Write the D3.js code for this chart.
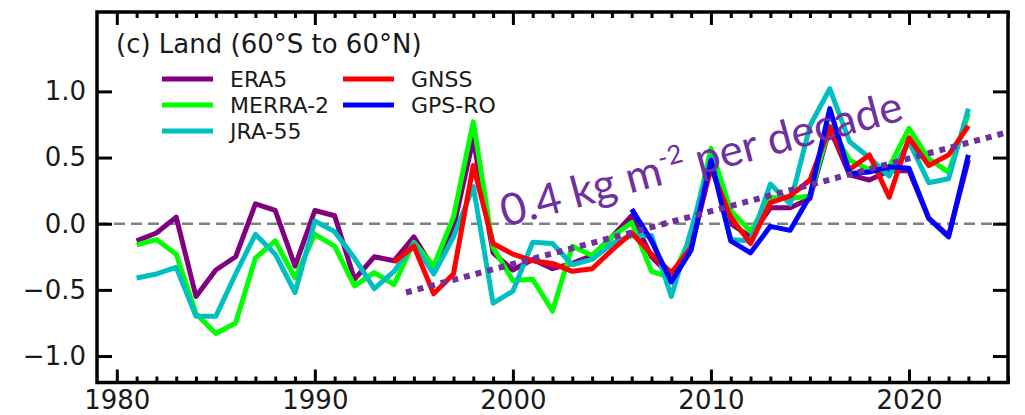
<!DOCTYPE html>
<html lang="en">
<head>
	<meta charset="UTF-8"/>
	<title>Land (60°S to 60°N) anomalies</title>
	<script src="https://d3js.org/d3.v7.min.js"></script>
	<style>
		body { margin: 0; background: #fff; }
		svg { display: block; font-family: "DejaVu Sans", sans-serif; }
	</style>
</head>
<body>
<script>
	var w = 1025;	// Width of the SVG
	var h = 415;	// Height of the SVG

	// plot frame (pixels)
	var frameL = 97, frameR = 1008, frameT = 12, frameB = 382.5;

	// years of each series
	var reanalysisYears = d3.range(1981, 2024);
	var gnssYears = d3.range(1994, 2024);
	var gpsroYears = d3.range(2006, 2024);

	// anomalies
	var era5 = [-0.13, -0.07, 0.05, -0.55, -0.35, -0.25, 0.15, 0.10, -0.32, 0.10,
		0.06, -0.42, -0.25, -0.28, -0.10, -0.34, -0.03, 0.64, -0.22, -0.35,
		-0.27, -0.34, -0.30, -0.24, -0.10, 0.06, -0.25, -0.40, -0.15, 0.45,
		0.00, -0.10, 0.12, 0.12, 0.19, 0.72, 0.37, 0.33, 0.40, 0.40,
		0.04, -0.09, 0.48];
	var merra2 = [-0.16, -0.12, -0.23, -0.68, -0.83, -0.75, -0.26, -0.13, -0.41, -0.08,
		-0.17, -0.47, -0.37, -0.46, -0.14, -0.32, 0.05, 0.77, -0.18, -0.43,
		-0.42, -0.66, -0.17, -0.24, -0.10, 0.01, -0.36, -0.41, -0.10, 0.57,
		0.10, -0.06, 0.20, 0.19, 0.21, 0.74, 0.48, 0.41, 0.43, 0.72,
		0.49, 0.39, 0.83];
	var jra55 = [-0.41, -0.38, -0.33, -0.70, -0.70, -0.38, -0.08, -0.23, -0.52, 0.02,
		-0.06, -0.26, -0.49, -0.36, -0.15, -0.38, -0.10, 0.28, -0.60, -0.51,
		-0.14, -0.15, -0.31, -0.27, -0.15, -0.09, -0.09, -0.55, -0.05, 0.50,
		-0.12, -0.13, 0.30, 0.15, 0.74, 1.02, 0.62, 0.50, 0.36, 0.62,
		0.31, 0.34, 0.87];
	var gnss = [-0.29, -0.17, -0.53, -0.38, 0.44, -0.15, -0.23, -0.28, -0.30, -0.36,
		-0.34, -0.20, -0.07, -0.23, -0.37, -0.18, 0.42, 0.05, -0.15, 0.16,
		0.21, 0.33, 0.73, 0.41, 0.52, 0.20, 0.65, 0.44, 0.52, 0.74];
	var gpsro = [0.11, -0.13, -0.44, -0.20, 0.48, -0.13, -0.22, -0.02, -0.05, 0.21,
		0.87, 0.38, 0.39, 0.43, 0.42, 0.04, -0.10, 0.52];

	// trend line (dotted) and its label
	var trendYears = [1994.6, 2025.2];
	var trendValues = [-0.52, 0.70];
	var trendLabel = "0.4 kg m";

	// ticks
	var xTicks = [1980, 1990, 2000, 2010, 2020];
	var xMinor = d3.range(1980, 2026).filter(function(d){ return d % 10 !== 0; });
	var yTicks = [-1.0, -0.5, 0.0, 0.5, 1.0];

	var series = [
		{ name: "ERA5",     years: reanalysisYears, values: era5,   color: "#800080" },
		{ name: "MERRA-2",  years: reanalysisYears, values: merra2, color: "#00ff00" },
		{ name: "JRA-55",   years: reanalysisYears, values: jra55,  color: "#00bfbf" },
		{ name: "GNSS",     years: gnssYears,       values: gnss,   color: "#ff0000" },
		{ name: "GPS-RO",   years: gpsroYears,      values: gpsro,  color: "#0000ff" }
	];

	var xScale = d3.scaleLinear().domain([1979, 2025]).range([frameL, frameR]);
	var yScale = d3.scaleLinear().domain([-1.2, 1.6]).range([frameB, frameT]);

	var svg = d3.select("body")
				.append("svg")
				.attr("width", w)
				.attr("height", h);

	svg.append("rect").attr("width", w).attr("height", h).attr("fill", "#fff");

	svg.append("clipPath").attr("id", "plot")
		.append("rect")
		.attr("x", frameL).attr("y", frameT)
		.attr("width", frameR - frameL).attr("height", frameB - frameT);

	// zero line
	svg.append("line")
		.attr("x1", frameL).attr("x2", frameR)
		.attr("y1", yScale(0)).attr("y2", yScale(0))
		.attr("stroke", "#808080")
		.attr("stroke-width", 2.5)
		.attr("stroke-dasharray", "11,6");

	// data lines
	var line = d3.line()
				.x(function(d){ return xScale(d[0]); })
				.y(function(d){ return yScale(d[1]); });

	series.forEach(function(s) {
		svg.append("path")
			.datum(d3.zip(s.years, s.values))
			.attr("d", line)
			.attr("fill", "none")
			.attr("stroke", s.color)
			.attr("stroke-width", 5)
			.attr("stroke-linejoin", "round");
	});

	// trend line
	svg.append("path")
		.datum(d3.zip(trendYears, trendValues))
		.attr("d", line)
		.attr("clip-path", "url(#plot)")
		.attr("fill", "none")
		.attr("stroke", "#7030a0")
		.attr("stroke-width", 6)
		.attr("stroke-dasharray", "6,6");

	var label = svg.append("text")
		.attr("transform", "translate(505,227) rotate(-15)")
		.attr("fill", "#7030a0")
		.style("font-family", "Lato, sans-serif")
		.style("font-size", "44px");
	label.append("tspan").text(trendLabel);
	label.append("tspan").attr("dy", -17).style("font-size", "26px").text("-2");
	label.append("tspan").attr("dy", 17).text(" per decade");

	// axes, ticks pointing inward on every side
	function styleAxis(g) {
		g.select(".domain").remove();
		g.selectAll(".tick line").attr("stroke", "#000").attr("stroke-width", 3);
		g.selectAll(".tick text").attr("fill", "#1a1a1a").style("font-size", "26px")
			.style("font-family", "DejaVu Sans, sans-serif");
	}

	svg.append("g")
		.attr("transform", "translate(0," + frameB + ")")
		.call(d3.axisBottom(xScale).tickValues(xTicks).tickSize(-13).tickPadding(8).tickFormat(d3.format("d")))
		.call(styleAxis);
	svg.append("g")
		.attr("transform", "translate(0," + frameB + ")")
		.call(d3.axisBottom(xScale).tickValues(xMinor).tickSize(-6).tickFormat(""))
		.call(styleAxis);
	svg.append("g")
		.attr("transform", "translate(0," + frameT + ")")
		.call(d3.axisTop(xScale).tickValues(xTicks).tickSize(-13).tickFormat(""))
		.call(styleAxis);
	svg.append("g")
		.attr("transform", "translate(0," + frameT + ")")
		.call(d3.axisTop(xScale).tickValues(xMinor).tickSize(-6).tickFormat(""))
		.call(styleAxis);
	svg.append("g")
		.attr("transform", "translate(" + frameL + ",0)")
		.call(d3.axisLeft(yScale).tickValues(yTicks).tickSize(-15).tickPadding(11).tickFormat(d3.format(".1f")))
		.call(styleAxis);
	svg.append("g")
		.attr("transform", "translate(" + frameR + ",0)")
		.call(d3.axisRight(yScale).tickValues(yTicks).tickSize(-15).tickFormat(""))
		.call(styleAxis);

	// frame
	svg.append("rect")
		.attr("x", frameL).attr("y", frameT)
		.attr("width", frameR - frameL).attr("height", frameB - frameT)
		.attr("fill", "none")
		.attr("stroke", "#000")
		.attr("stroke-width", 3.5);

	// title and legend
	svg.append("text")
		.attr("x", 116).attr("y", 53)
		.attr("fill", "#1a1a1a")
		.style("font-size", "26px")
		.text("(c) Land (60°S to 60°N)");

	var legendPos = [[162, 79], [162, 105], [162, 131], [343, 79], [343, 105]];
	var legend = svg.selectAll(".legend")
		.data(series)
		.enter()
		.append("g")
		.attr("class", "legend")
		.attr("transform", function(d, i){ return "translate(" + legendPos[i][0] + "," + legendPos[i][1] + ")"; });
	legend.append("line")
		.attr("x1", 0).attr("x2", 51)
		.attr("stroke", function(d){ return d.color; })
		.attr("stroke-width", 5);
	legend.append("text")
		.attr("x", 68).attr("y", 7.5)
		.attr("fill", "#1a1a1a")
		.style("font-size", "22px")
		.text(function(d){ return d.name; });
</script>
</body>
</html>
